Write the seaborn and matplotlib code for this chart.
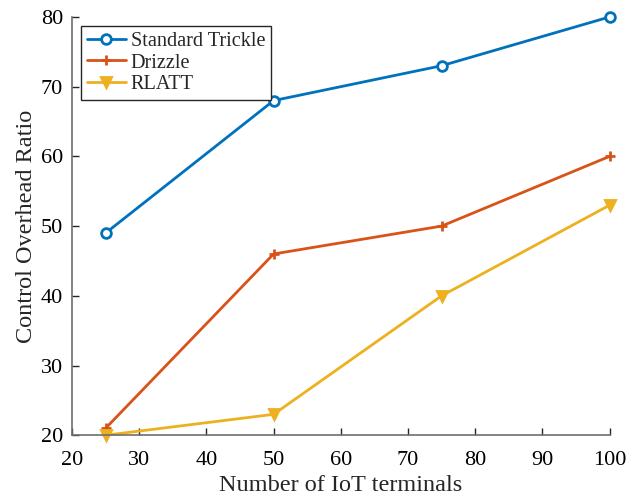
import matplotlib
matplotlib.use('Agg')
import matplotlib.pyplot as plt
import pandas as pd
import seaborn as sns

# Data
terminals = [25, 50, 75, 100]
standard_trickle = [49, 68, 73, 80]
drizzle = [21, 46, 50, 60]
rlatt = [20, 23, 40, 53]

df = pd.DataFrame({
    'terminals': terminals * 3,
    'ratio': standard_trickle + drizzle + rlatt,
    'method': ['Standard Trickle'] * 4 + ['Drizzle'] * 4 + ['RLATT'] * 4,
})

sns.set_style('ticks')
plt.rcParams['font.family'] = ['Liberation Serif', 'DejaVu Serif']

colors = {'Standard Trickle': '#0072BD', 'Drizzle': '#D95319', 'RLATT': '#EDB120'}
markers = {'Standard Trickle': 'o', 'Drizzle': '+', 'RLATT': 'v'}

fig = plt.figure(figsize=(6.4, 4.98), dpi=100)
ax = fig.add_axes([0.1125, 0.126, 0.84, 0.84])

for name in ['Standard Trickle', 'Drizzle', 'RLATT']:
    sub = df[df['method'] == name]
    face = 'white' if name == 'Standard Trickle' else colors[name]
    sns.lineplot(data=sub, x='terminals', y='ratio', ax=ax, color=colors[name],
                 marker=markers[name], markersize=7, markerfacecolor=face,
                 markeredgecolor=colors[name], markeredgewidth=2,
                 linewidth=2, label=name, clip_on=False)

ax.set_xlim(20, 100)
ax.set_ylim(20, 80)
ax.set_xticks(range(20, 101, 10))
ax.set_yticks(range(20, 81, 10))
ax.tick_params(direction='in', length=5, width=1, labelsize=16, colors='#262626',
               labelcolor='black')
ax.tick_params(axis='x', pad=11)
ax.tick_params(axis='y', pad=6.5)
for side in ['top', 'right']:
    ax.spines[side].set_visible(False)
for side in ['left', 'bottom']:
    ax.spines[side].set_color('#6e6e6e')
    ax.spines[side].set_linewidth(1.2)

ax.set_xlabel('Number of IoT terminals', fontsize=17.5, labelpad=4)
ax.set_ylabel('Control Overhead Ratio', fontsize=17.5, labelpad=2.5)

leg = ax.legend(loc='upper left', fontsize=14.6, frameon=True, fancybox=False,
                edgecolor='#262626', handlelength=1.9, borderpad=0.3,
                labelspacing=0.1, handletextpad=0.25, borderaxespad=0.45)
leg.get_frame().set_linewidth(1.0)
leg.get_frame().set_alpha(1)

fig.savefig('out.png', dpi=100)
